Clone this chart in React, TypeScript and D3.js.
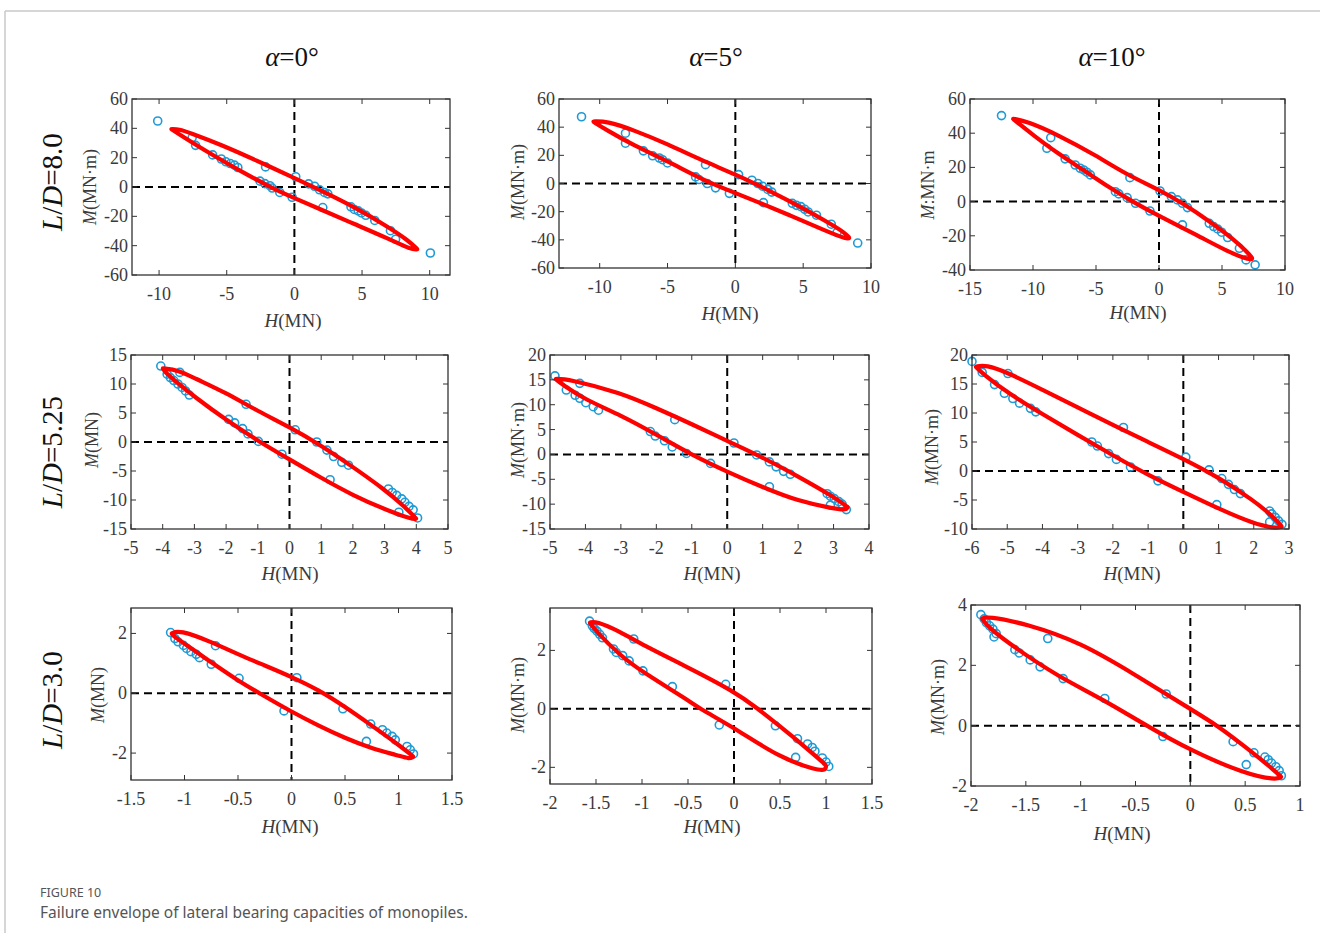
import React from 'react';
import * as d3 from 'd3';

type Pt = [number, number];

const columnTitles = ['0°', '5°', '10°'];
const rowTitles = ['8.0', '5.25', '3.0'];

// L/D = 8.0, alpha = 0
const p1XDomain: Pt = [-12, 11.5];
const p1YDomain: Pt = [-60, 60];
const p1XTicks = [-10, -5, 0, 5, 10];
const p1YTicks = [-60, -40, -20, 0, 20, 40, 60];
const p1Upper: Pt[] = [[-9.1, 39.5], [-8.5, 39.4], [-7.8, 37.2], [-5.4, 28.8], [-2.9, 18.5], [0, 6.2], [2, -2.6], [4.5, -14], [6.9, -27], [8.4, -36.3], [9.1, -42.5]];
const p1Lower: Pt[] = [[8.65, -42.8], [6.9, -35], [4.5, -25.5], [2, -15.5], [0, -7.6], [-1.7, -0.5], [-4.1, 11.5], [-6.6, 24.8], [-8.8, 37.7]];
const p1Points: Pt[] = [[-10.1, 45], [-7.55, 33.7], [-7.3, 28.4], [-6.04, 21.9], [-5.4, 19.1], [-5.06, 17.2], [-4.74, 16], [-4.43, 14.9], [-4.18, 13.3], [-2.13, 13.7], [-2.54, 4], [-2.18, 2.3], [-1.81, 0.9], [-1.64, -0.7], [-1.08, -3.7], [-0.17, -7], [0.1, 7], [1.05, 2.1], [1.49, 0.5], [1.86, -1.9], [2.22, -3.7], [2.47, -4.7], [2.1, -14], [4.18, -13.5], [4.43, -15.3], [4.72, -16.3], [4.96, -17.7], [5.28, -19.3], [5.94, -22.8], [7.1, -29.8], [7.48, -35.6], [10.05, -45]];

// L/D = 8.0, alpha = 5
const p2XDomain: Pt = [-13, 10];
const p2YDomain: Pt = [-60, 60];
const p2XTicks = [-10, -5, 0, 5, 10];
const p2YTicks = [-60, -40, -20, 0, 20, 40, 60];
const p2Upper: Pt[] = [[-10.5, 44], [-9.5, 44.3], [-7.5, 38], [-5, 28], [-2.5, 16.5], [0, 6.5], [2.5, -5], [5, -17.5], [7, -28.5], [8, -34.5], [8.4, -38.5]];
const p2Lower: Pt[] = [[8.3, -40], [6.5, -33], [4, -22.5], [1.5, -12.5], [0, -6.8], [-2.5, 3], [-5, 16], [-7.5, 27], [-9.5, 38]];
const p2Points: Pt[] = [[-11.34, 47.4], [-8.1, 35.7], [-8.1, 28.6], [-6.78, 23.2], [-6.1, 19.7], [-5.6, 18.1], [-5.37, 16.9], [-5.0, 14.6], [-2.2, 13.4], [-2.93, 4.7], [-2.68, 2.8], [-2.07, 0], [-1.46, -3.1], [-0.44, -7], [0.24, 6.3], [1.22, 2.3], [1.66, 0], [2.0, -1.9], [2.39, -4.2], [2.68, -6.1], [2.07, -13.6], [4.2, -14.1], [4.51, -15.5], [4.83, -16.4], [5.12, -18.3], [5.37, -20.2], [5.98, -22.5], [7.07, -28.9], [7.5, -34.7], [9.02, -42.3]];

// L/D = 8.0, alpha = 10
const p3XDomain: Pt = [-15, 10];
const p3YDomain: Pt = [-40, 60];
const p3XTicks = [-15, -10, -5, 0, 5, 10];
const p3YTicks = [-40, -20, 0, 20, 40, 60];
const p3Upper: Pt[] = [[-11.6, 48.5], [-10.5, 47], [-8, 39], [-5, 27], [-2.5, 15.5], [0, 7], [2, -1.5], [4, -11.5], [6, -22.5], [7, -29.5], [7.4, -33]];
const p3Lower: Pt[] = [[7.3, -34.5], [5.5, -29.5], [3, -19.5], [0, -8.5], [-2, -0.5], [-4, 8.5], [-6, 18.5], [-8, 28], [-10, 39], [-11.2, 46]];
const p3Points: Pt[] = [[-12.5, 50.3], [-8.59, 37.4], [-8.9, 31.2], [-7.45, 25], [-6.65, 21.4], [-6.25, 19.5], [-5.98, 18.5], [-5.72, 17.2], [-5.45, 15.6], [-2.31, 14], [-3.46, 5.8], [-3.19, 4.5], [-2.53, 2.3], [-1.86, -1], [-0.72, -5.5], [0.08, 6.2], [0.98, 2.9], [1.46, 1], [1.86, -1], [2.26, -3.5], [1.86, -13.6], [3.99, -12.7], [4.34, -14.6], [4.65, -16], [4.97, -17.9], [5.45, -21], [6.38, -27.3], [6.91, -34.1], [7.63, -37]];

// L/D = 5.25, alpha = 0
const p4XDomain: Pt = [-5, 5];
const p4YDomain: Pt = [-15, 15];
const p4XTicks = [-5, -4, -3, -2, -1, 0, 1, 2, 3, 4, 5];
const p4YTicks = [-15, -10, -5, 0, 5, 10, 15];
const p4Upper: Pt[] = [[-4.0, 12.7], [-3.5, 12.4], [-3, 11], [-2, 8.5], [-1, 5.3], [0, 2.6], [1, -0.6], [2, -4.3], [3, -8.2], [3.6, -11], [4.0, -13.2]];
const p4Lower: Pt[] = [[3.9, -13.4], [3, -11.6], [2, -9.2], [1, -6.2], [0, -3], [-1, 0.2], [-2, 3.8], [-3, 7.8], [-3.6, 10.5], [-3.95, 12.2]];
const p4Points: Pt[] = [[-4.06, 13.1], [-3.86, 11.7], [-3.76, 11.1], [-3.65, 10.6], [-3.52, 10], [-3.39, 9.4], [-3.28, 8.8], [-3.16, 8.1], [-3.46, 12], [-1.37, 6.5], [-1.92, 3.9], [-1.73, 3.3], [-1.48, 2.3], [-1.31, 1.4], [-0.98, 0.1], [-0.24, -2.1], [0.18, 2.1], [0.86, 0], [1.18, -1.4], [1.39, -2.5], [1.65, -3.5], [1.86, -4], [1.28, -6.5], [3.12, -8.1], [3.24, -8.7], [3.38, -9.2], [3.54, -9.8], [3.64, -10.4], [3.77, -11.1], [3.9, -11.7], [3.45, -12.1], [4.04, -13.1]];

// L/D = 5.25, alpha = 5
const p5XDomain: Pt = [-5, 4];
const p5YDomain: Pt = [-15, 20];
const p5XTicks = [-5, -4, -3, -2, -1, 0, 1, 2, 3, 4];
const p5YTicks = [-15, -10, -5, 0, 5, 10, 15, 20];
const p5Upper: Pt[] = [[-4.85, 15.2], [-4.5, 15.2], [-3, 12.4], [-2, 9.3], [-1, 6.1], [0, 2.7], [1, -0.6], [2, -4.4], [3, -8.5], [3.4, -10.6]];
const p5Lower: Pt[] = [[3.35, -11.2], [3, -10.9], [2, -9.4], [1, -6.6], [0, -3.5], [-1, -0.1], [-2, 4], [-3, 7.9], [-4, 11], [-4.6, 13.8]];
const p5Points: Pt[] = [[-4.86, 15.8], [-4.54, 12.95], [-4.29, 11.9], [-4.16, 11.3], [-3.99, 10.4], [-3.78, 9.6], [-3.63, 8.9], [-4.16, 14.3], [-1.48, 7], [-2.17, 4.6], [-2.03, 3.7], [-1.77, 2.75], [-1.55, 1.5], [-1.15, 0.2], [-0.47, -1.8], [0.19, 2.3], [0.83, -0.1], [1.19, -1.5], [1.38, -2.5], [1.59, -3.4], [1.78, -4], [1.19, -6.5], [2.82, -7.9], [2.91, -8.4], [3.02, -8.9], [3.15, -9.5], [3.24, -10], [2.91, -10.2], [3.36, -11.1]];

// L/D = 5.25, alpha = 10
const p6XDomain: Pt = [-6, 3];
const p6YDomain: Pt = [-10, 20];
const p6XTicks = [-6, -5, -4, -3, -2, -1, 0, 1, 2, 3];
const p6YTicks = [-10, -5, 0, 5, 10, 15, 20];
const p6Upper: Pt[] = [[-5.9, 18], [-5.6, 18.3], [-5, 17], [-4, 14], [-3, 11], [-2, 7.9], [-1, 5], [0, 2.1], [1, -1.1], [2, -5.1], [2.5, -7.6], [2.8, -9.6]];
const p6Lower: Pt[] = [[2.6, -9.9], [2, -9.1], [1, -6.5], [0, -3.6], [-1, -0.7], [-2, 2.7], [-3, 6.2], [-4, 9.8], [-5, 13.5], [-5.7, 16.8]];
const p6Points: Pt[] = [[-6, 18.9], [-5.71, 17], [-4.98, 16.8], [-5.36, 14.9], [-5.08, 13.4], [-4.84, 12.5], [-4.65, 11.7], [-4.34, 10.8], [-4.19, 10.2], [-1.7, 7.5], [-2.6, 5], [-2.44, 4.3], [-2.12, 3], [-1.9, 2], [-1.5, 0.7], [-0.72, -1.7], [0.07, 2.4], [0.73, 0.2], [1.09, -1.3], [1.28, -2.3], [1.45, -3.2], [1.62, -3.9], [0.95, -5.8], [2.45, -6.9], [2.51, -7.4], [2.61, -8], [2.7, -8.6], [2.45, -8.8], [2.8, -9.2]];

// L/D = 3.0, alpha = 0
const p7XDomain: Pt = [-1.5, 1.5];
const p7YDomain: Pt = [-2.9, 2.85];
const p7XTicks = [-1.5, -1, -0.5, 0, 0.5, 1, 1.5];
const p7YTicks = [-2, 0, 2];
const p7Upper: Pt[] = [[-1.12, 2.0], [-1.05, 2.12], [-0.75, 1.72], [-0.5, 1.3], [-0.25, 0.93], [0, 0.55], [0.25, 0.12], [0.5, -0.45], [0.75, -1.08], [1.0, -1.72], [1.14, -2.12]];
const p7Lower: Pt[] = [[1.1, -2.2], [1, -2.08], [0.75, -1.85], [0.5, -1.5], [0.25, -1.08], [0, -0.62], [-0.3, 0], [-0.5, 0.42], [-0.75, 1.03], [-1, 1.66], [-1.1, 1.9]];
const p7Points: Pt[] = [[-1.13, 2.03], [-1.09, 1.83], [-1.06, 1.72], [-1.01, 1.6], [-0.98, 1.5], [-0.94, 1.39], [-0.89, 1.3], [-0.86, 1.19], [-0.71, 1.59], [-0.75, 0.97], [-0.49, 0.5], [-0.07, -0.59], [0.05, 0.52], [0.48, -0.52], [0.74, -1.03], [0.7, -1.61], [0.85, -1.22], [0.89, -1.33], [0.94, -1.44], [0.97, -1.56], [1.08, -1.78], [1.11, -1.89], [1.14, -2.03]];

// L/D = 3.0, alpha = 5
const p8XDomain: Pt = [-2, 1.5];
const p8YDomain: Pt = [-2.57, 3.45];
const p8XTicks = [-2, -1.5, -1, -0.5, 0, 0.5, 1, 1.5];
const p8YTicks = [-2, 0, 2];
const p8Upper: Pt[] = [[-1.57, 2.95], [-1.5, 3.0], [-1.25, 2.66], [-1, 2.2], [-0.5, 1.42], [0, 0.6], [0.25, 0.03], [0.5, -0.6], [0.75, -1.24], [1.0, -1.92]];
const p8Lower: Pt[] = [[1.0, -2.1], [0.9, -2.1], [0.5, -1.68], [0, -0.64], [-0.37, 0], [-0.5, 0.3], [-1, 1.27], [-1.25, 1.86], [-1.5, 2.66]];
const p8Points: Pt[] = [[-1.57, 3.0], [-1.54, 2.84], [-1.52, 2.75], [-1.49, 2.66], [-1.46, 2.55], [-1.43, 2.43], [-1.09, 2.39], [-1.31, 2.05], [-1.28, 1.93], [-1.21, 1.82], [-1.14, 1.64], [-0.99, 1.3], [-0.67, 0.76], [-0.16, -0.55], [-0.09, 0.84], [0.45, -0.58], [0.69, -1.02], [0.67, -1.66], [0.8, -1.2], [0.85, -1.32], [0.88, -1.45], [0.96, -1.68], [1.0, -1.82], [1.03, -1.97]];

// L/D = 3.0, alpha = 10
const p9XDomain: Pt = [-2, 1];
const p9YDomain: Pt = [-2, 4];
const p9XTicks = [-2, -1.5, -1, -0.5, 0, 0.5, 1];
const p9YTicks = [-2, 0, 2, 4];
const p9Upper: Pt[] = [[-1.9, 3.55], [-1.85, 3.63], [-1.5, 3.38], [-1, 2.76], [-0.5, 1.68], [0, 0.55], [0.25, 0], [0.5, -0.7], [0.75, -1.43], [0.83, -1.7]];
const p9Lower: Pt[] = [[0.78, -1.8], [0.5, -1.6], [0, -0.82], [-0.4, 0], [-0.8, 0.88], [-1.2, 1.62], [-1.6, 2.58], [-1.85, 3.28]];
const p9Points: Pt[] = [[-1.91, 3.68], [-1.88, 3.54], [-1.86, 3.42], [-1.83, 3.31], [-1.8, 3.2], [-1.77, 3.05], [-1.79, 2.94], [-1.3, 2.89], [-1.6, 2.52], [-1.56, 2.41], [-1.46, 2.18], [-1.37, 1.95], [-1.16, 1.56], [-0.78, 0.9], [-0.22, 1.05], [-0.25, -0.36], [0.39, -0.53], [0.58, -0.9], [0.51, -1.29], [0.68, -1.04], [0.71, -1.13], [0.74, -1.24], [0.78, -1.36], [0.81, -1.49], [0.83, -1.66]];

const yUnits = ['(MN·m)', '(MN·m)', ':MN·m', '(MN)', '(MN·m)', '(MN·m)', '(MN)', '(MN·m)', '(MN·m)'];

// pixel layout of each axes box and its labels
const layout = [
  { l: 132, r: 450, t: 99, b: 275, ylx: 90, yly: 187, xlx: 293, xly: 320 },
  { l: 559, r: 871, t: 99, b: 268, ylx: 518, yly: 182, xlx: 730, xly: 313 },
  { l: 970, r: 1285, t: 99, b: 270, ylx: 928, yly: 185, xlx: 1138, xly: 312 },
  { l: 131, r: 448, t: 355, b: 529, ylx: 92, yly: 440, xlx: 290, xly: 573 },
  { l: 550, r: 869, t: 355, b: 529, ylx: 518, yly: 440, xlx: 712, xly: 573 },
  { l: 972, r: 1289, t: 355, b: 529, ylx: 932, yly: 447, xlx: 1132, xly: 573 },
  { l: 131, r: 452, t: 608, b: 780, ylx: 98, yly: 695, xlx: 290, xly: 826 },
  { l: 550, r: 872, t: 608, b: 784, ylx: 518, yly: 695, xlx: 712, xly: 826 },
  { l: 971, r: 1300, t: 605, b: 786, ylx: 938, yly: 697, xlx: 1122, xly: 833 },
];

const panels = [
  { xd: p1XDomain, yd: p1YDomain, xt: p1XTicks, yt: p1YTicks, up: p1Upper, lo: p1Lower, pts: p1Points },
  { xd: p2XDomain, yd: p2YDomain, xt: p2XTicks, yt: p2YTicks, up: p2Upper, lo: p2Lower, pts: p2Points },
  { xd: p3XDomain, yd: p3YDomain, xt: p3XTicks, yt: p3YTicks, up: p3Upper, lo: p3Lower, pts: p3Points },
  { xd: p4XDomain, yd: p4YDomain, xt: p4XTicks, yt: p4YTicks, up: p4Upper, lo: p4Lower, pts: p4Points },
  { xd: p5XDomain, yd: p5YDomain, xt: p5XTicks, yt: p5YTicks, up: p5Upper, lo: p5Lower, pts: p5Points },
  { xd: p6XDomain, yd: p6YDomain, xt: p6XTicks, yt: p6YTicks, up: p6Upper, lo: p6Lower, pts: p6Points },
  { xd: p7XDomain, yd: p7YDomain, xt: p7XTicks, yt: p7YTicks, up: p7Upper, lo: p7Lower, pts: p7Points },
  { xd: p8XDomain, yd: p8YDomain, xt: p8XTicks, yt: p8YTicks, up: p8Upper, lo: p8Lower, pts: p8Points },
  { xd: p9XDomain, yd: p9YDomain, xt: p9XTicks, yt: p9YTicks, up: p9Upper, lo: p9Lower, pts: p9Points },
];

const serif = '"Liberation Serif", "Times New Roman", serif';
const tickColor = '#3a3a3a';

const Panel = ({ i }: { i: number }) => {
  const p = panels[i];
  const L = layout[i];
  const x = d3.scaleLinear().domain(p.xd).range([L.l, L.r]);
  const y = d3.scaleLinear().domain(p.yd).range([L.b, L.t]);
  // smoothed closed envelope; tip points doubled so the spline reaches them
  const line = d3.line<Pt>()
    .x(d => x(d[0]))
    .y(d => y(d[1]))
    .curve(d3.curveBasisClosed);
  const first = p.up[0];
  const last = p.up[p.up.length - 1];
  const env = line([first, ...p.up, last, ...p.lo]) || '';
  const tl = 5;
  return (
    <g>
      <rect x={L.l} y={L.t} width={L.r - L.l} height={L.b - L.t} fill="#fff" />
      <line x1={x(0)} x2={x(0)} y1={L.t} y2={L.b} stroke="#000" strokeWidth={2} strokeDasharray="8 5" />
      <line x1={L.l} x2={L.r} y1={y(0)} y2={y(0)} stroke="#000" strokeWidth={2} strokeDasharray="8 5" />
      {p.pts.map((d, k) => (
        <circle key={k} cx={x(d[0])} cy={y(d[1])} r={4} fill="none" stroke="#1e9ad6" strokeWidth={1.6} />
      ))}
      <path d={env} fill="none" stroke="#ff0000" strokeWidth={4.2} strokeLinejoin="round" />
      {p.xt.map(v => (
        <g key={'x' + v}>
          <line x1={x(v)} x2={x(v)} y1={L.b} y2={L.b - tl} stroke="#333" />
          <line x1={x(v)} x2={x(v)} y1={L.t} y2={L.t + tl} stroke="#333" />
          <text x={x(v)} y={L.b + 19} textAnchor="middle" dominantBaseline="central" fontFamily={serif} fontSize={18} fill={tickColor}>{String(v)}</text>
        </g>
      ))}
      {p.yt.map(v => (
        <g key={'y' + v}>
          <line x1={L.l} x2={L.l + tl} y1={y(v)} y2={y(v)} stroke="#333" />
          <line x1={L.r} x2={L.r - tl} y1={y(v)} y2={y(v)} stroke="#333" />
          <text x={L.l - 4} y={y(v)} textAnchor="end" dominantBaseline="central" fontFamily={serif} fontSize={18} fill={tickColor}>{String(v)}</text>
        </g>
      ))}
      <rect x={L.l} y={L.t} width={L.r - L.l} height={L.b - L.t} fill="none" stroke="#333" strokeWidth={1.3} />
      <text transform={`translate(${L.ylx},${L.yly}) rotate(-90)`} textAnchor="middle" dominantBaseline="central" fontFamily={serif} fontSize={18} fill={tickColor}>
        <tspan fontStyle="italic">M</tspan>{yUnits[i]}
      </text>
      <text x={L.xlx} y={L.xly} textAnchor="middle" dominantBaseline="central" fontFamily={serif} fontSize={19} fill={tickColor}>
        <tspan fontStyle="italic">H</tspan>(MN)
      </text>
    </g>
  );
};

const colX = [292, 716, 1112];
const rowY = [182, 452, 700];

export default function App() {
  return (
    <svg width={1320} height={933} style={{ position: 'absolute', left: 0, top: 0, background: '#fff' }}>
      <line x1={5} x2={1320} y1={11} y2={11} stroke="#c8c8c8" strokeWidth={1.5} />
      <line x1={5} x2={5} y1={11} y2={933} stroke="#c8c8c8" strokeWidth={1.5} />
      {columnTitles.map((c, k) => (
        <text key={c} x={colX[k]} y={57} textAnchor="middle" dominantBaseline="central" fontFamily={serif} fontSize={27} fill="#111">
          <tspan fontStyle="italic">α</tspan>={c}
        </text>
      ))}
      {rowTitles.map((r, k) => (
        <text key={r} transform={`translate(52,${rowY[k]}) rotate(-90)`} textAnchor="middle" dominantBaseline="central" fontFamily={serif} fontSize={29} fill="#111">
          <tspan fontStyle="italic">L</tspan>/<tspan fontStyle="italic">D</tspan>={r}
        </text>
      ))}
      {panels.map((_, i) => <Panel key={i} i={i} />)}
      <text x={40} y={897} fontFamily='"Noto Sans", "Open Sans", sans-serif' fontSize={12.5} fill="#555">FIGURE 10</text>
      <text x={40} y={918} fontFamily='"Noto Sans", "Open Sans", sans-serif' fontSize={15.5} fill="#555">Failure envelope of lateral bearing capacities of monopiles.</text>
    </svg>
  );
}
